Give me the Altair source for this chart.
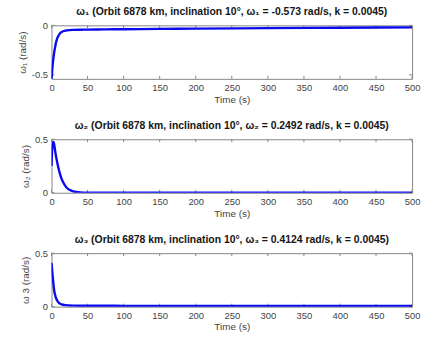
import altair as alt
import pandas as pd

time_s = [0, 1, 2, 3, 4, 5, 6, 7, 8, 10, 12, 14, 16, 20, 25, 30, 40, 50, 75, 100, 150, 200, 300, 400, 500]
omega1 = [-0.54, -0.45, -0.37, -0.31, -0.26, -0.22, -0.18, -0.155, -0.13, -0.10, -0.08, -0.068, -0.06,
          -0.052, -0.048, -0.046, -0.044, -0.043, -0.041, -0.039, -0.036, -0.033, -0.028, -0.024, -0.021]
omega2 = [0.25, 0.42, 0.475, 0.47, 0.44, 0.395, 0.35, 0.315, 0.28, 0.22, 0.17, 0.13, 0.10,
          0.055, 0.027, 0.012, 0.003, 0.001, 0.0, 0.0, 0.0, 0.0, 0.0, 0.0, 0.0]
omega3 = [0.41, 0.33, 0.26, 0.19, 0.14, 0.11, 0.085, 0.07, 0.055, 0.038, 0.028, 0.022, 0.018,
          0.014, 0.011, 0.010, 0.009, 0.009, 0.0085, 0.008, 0.0078, 0.0075, 0.007, 0.0065, 0.006]

x_ticks = [0, 50, 100, 150, 200, 250, 300, 350, 400, 450, 500]
titles = [
    "ω₁ (Orbit 6878 km, inclination 10°, ω₁ = -0.573 rad/s, k = 0.0045)",
    "ω₂ (Orbit 6878 km, inclination 10°, ω₂ = 0.2492 rad/s, k = 0.0045)",
    "ω₃ (Orbit 6878 km, inclination 10°, ω₃ = 0.4124 rad/s, k = 0.0045)",
]
y_titles = ["ω₁ (rad/s)", "ω₂ (rad/s)", "ω 3 (rad/s)"]
y_domains = [[-0.54, 0], [0, 0.5], [0, 0.5]]
y_ticks = [[-0.5, 0], [0, 0.5], [0, 0.5]]

W, H = 364, 54
GRAY = "#858585"
FONT = "Liberation Sans"


def panel(values, title, ytitle, ydom, yticks):
    df = pd.DataFrame({"t": time_s, "w": values})
    x = alt.X("t:Q", scale=alt.Scale(domain=[0, 500], nice=False),
              axis=alt.Axis(values=x_ticks, title="Time (s)", labelFlush=False,
                            labelOverlap=False, labelPadding=4, titlePadding=2))
    y = alt.Y("w:Q", scale=alt.Scale(domain=ydom, nice=False, zero=False),
              axis=alt.Axis(values=yticks, title=ytitle, labelExpr="datum.value + ''",
                            labelPadding=4, titlePadding=4))
    line = alt.Chart(df).mark_line(color="#0a0aee", strokeWidth=2.4,
                                   interpolate="monotone", clip=True).encode(x=x, y=y)
    xt = pd.DataFrame({"t": x_ticks})
    yt = pd.DataFrame({"w": yticks})
    tick_b = alt.Chart(xt).mark_rule(color=GRAY).encode(x=x, y=alt.value(H), y2=alt.value(H - 3))
    tick_t = alt.Chart(xt).mark_rule(color=GRAY).encode(x=x, y=alt.value(0), y2=alt.value(3))
    tick_l = alt.Chart(yt).mark_rule(color=GRAY).encode(y=y, x=alt.value(0), x2=alt.value(3))
    tick_r = alt.Chart(yt).mark_rule(color=GRAY).encode(y=y, x=alt.value(W), x2=alt.value(W - 3))
    return alt.layer(tick_b, tick_t, tick_l, tick_r, line).properties(
        width=W, height=H,
        title=alt.TitleParams(title, fontSize=10.5, fontWeight="bold", font=FONT,
                              color="#151515", offset=3, anchor="middle"))


panels = [panel(v, t, yt, yd, yk) for v, t, yt, yd, yk in
          zip([omega1, omega2, omega3], titles, y_titles, y_domains, y_ticks)]

chart = alt.vconcat(*panels, spacing=61, bounds="flush").properties(
    padding={"left": 17, "top": 5, "right": 0, "bottom": 0}
).configure_view(stroke=GRAY, strokeWidth=1).configure_axis(
    domain=False, ticks=False, grid=False,
    labelFont=FONT, labelFontSize=9.5, labelColor="#444444",
    titleFont=FONT, titleFontSize=10, titleFontWeight="normal", titleColor="#444444",
)

chart.save("out.html", embed_options={"renderer": "svg", "actions": False})
